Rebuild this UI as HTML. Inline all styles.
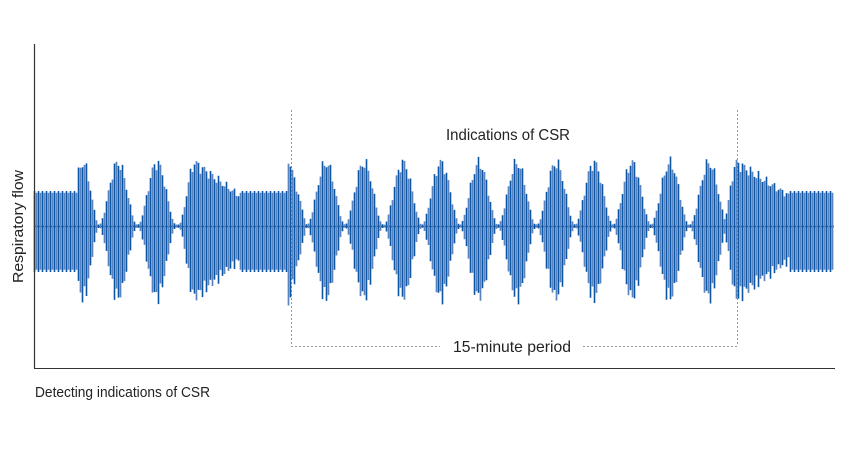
<!DOCTYPE html>
<html><head><meta charset="utf-8"><style>
html,body{margin:0;padding:0;background:#fff;}
svg{display:block;}
text{font-family:"Liberation Sans",sans-serif;fill:#222;}
</style></head><body>
<svg id="s" width="860" height="470" viewBox="0 0 860 470" xmlns="http://www.w3.org/2000/svg">
<g stroke="#999" stroke-width="1" stroke-dasharray="2,2" fill="none">
<line x1="291.5" y1="110" x2="291.5" y2="346"/>
<line x1="737.5" y1="110" x2="737.5" y2="346"/>
<line x1="291" y1="346.5" x2="440" y2="346.5"/>
<line x1="583" y1="346.5" x2="737" y2="346.5"/>
</g>
<g id="w"></g>
<line x1="34.5" y1="44" x2="34.5" y2="368" stroke="#333" stroke-width="1.2"/>
<line x1="34" y1="368.5" x2="835" y2="368.5" stroke="#333" stroke-width="1"/>
<text x="446" y="140" font-size="16" textLength="124" lengthAdjust="spacingAndGlyphs">Indications of CSR</text>
<text x="453" y="352" font-size="16" textLength="118" lengthAdjust="spacingAndGlyphs">15-minute period</text>
<text x="35" y="397" font-size="15" textLength="175" lengthAdjust="spacingAndGlyphs">Detecting indications of CSR</text>
<text transform="translate(23,283) rotate(-90)" font-size="15" textLength="113" lengthAdjust="spacingAndGlyphs">Respiratory flow</text>
</svg>
<script>
function burst(x,c,w){var d=(x-c)/w;if(Math.abs(d)>1)return 0;var v=Math.cos(d*Math.PI/2);return v*v;}
function env(x){
 if(x<78)return 1;
 var a=0;
 if(x<100){a=Math.max(a,burst(x,83,17)*2);}
 a=Math.max(a,burst(x,118,20)*2,burst(x,157,20)*2);
 if(x>=178&&x<240){var r=x<195?burst(x,195,17)*2:2-(x-195)/45*1.05;a=Math.max(a,r);}
 if(x>=240&&x<290)a=Math.max(a,0.95);
 if(x>=288&&x<306){a=Math.max(a,2-(x-290)/16*1.9);}
 var cs=[326,364,403,441,479,517,556,594,632,670,709];
 for(var i=0;i<cs.length;i++)a=Math.max(a,burst(x,cs[i],20)*2);
 if(x>=722&&x<790){var r2=x<737?burst(x,737,15)*2:2-(x-737)/53*1.05;a=Math.max(a,r2);}
 if(x>=790)a=Math.max(a,0.95);
 return Math.max(a,0.05);
}
var g=document.getElementById('w'),d1='',d2='',cy=226;
var k=0;
for(var x=34.5;x<834;x+=2.0){
 var a=env(x);k++;
 var up=a*35*(0.92+0.08*Math.sin(k*1.7));
 var dn=a*38*(0.95+0.1*Math.cos(k*2.3));
 if(x<78||(x>=240&&x<288)||x>=790){dn=46;up=35;}
 if(k%2){d1+='M'+x.toFixed(1)+' '+(cy-up).toFixed(1)+'V'+(cy+dn).toFixed(1);}
 else{d2+='M'+x.toFixed(1)+' '+(cy-up*0.95).toFixed(1)+'V'+(cy+dn*0.95).toFixed(1);}
}
g.innerHTML='<line x1="34" y1="226.5" x2="834" y2="226.5" stroke="#3a5f8f" stroke-width="1.5"/>'+
'<path d="'+d2+'" stroke="#5a84bd" stroke-width="1.7" fill="none"/>'+
'<path d="'+d1+'" stroke="#0d56a6" stroke-width="1.6" fill="none"/>';
</script>
</body></html>
